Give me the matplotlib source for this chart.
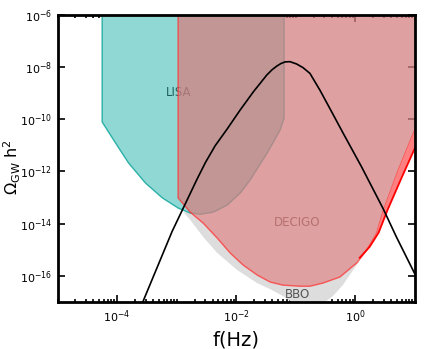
import matplotlib
matplotlib.use("Agg")
import matplotlib.pyplot as plt
import numpy as np
from matplotlib.ticker import FixedLocator, NullFormatter, LogFormatterSciNotation


# values, all in log10 units (f in Hz, Omega_GW h^2)

# LISA sensitivity region (left wall, bucket, right wall)
lisa_logf = [-4.251, -4.251, -4.025, -3.808, -3.523, -3.239, -2.972, -2.771,
             -2.604, -2.386, -2.152, -1.935, -1.768, -1.483, -1.266, -1.199, -1.199]
lisa_logomega = [-5.0, -10.11, -10.92, -11.68, -12.45, -13.02, -13.41, -13.60,
                 -13.64, -13.56, -13.29, -12.83, -12.33, -11.30, -10.42, -9.96, -5.0]

# DECIGO sensitivity region
decigo_logf = [-2.977, -2.977, -2.771, -2.553, -2.319, -2.102, -1.885, -1.651,
               -1.433, -1.216, -0.932, -0.764, -0.547, -0.263, 0.021, 0.188,
               0.355, 0.472, 0.706, 0.975, 1.24, 1.24]
decigo_logomega = [-5.0, -13.02, -13.57, -13.99, -14.56, -15.13, -15.59, -15.97,
                   -16.24, -16.36, -16.40, -16.40, -16.28, -16.05, -15.51, -15.02,
                   -14.37, -13.48, -12.03, -10.53, -9.07, -5.0]

# DECIGO high frequency edge (bright red)
decigo_hi_logf = [0.071, 0.238, 0.388, 0.538, 0.773, 0.975, 1.24]
decigo_hi_logomega = [-15.31, -14.89, -14.35, -13.48, -12.25, -11.22, -9.95]

# BBO lower edge
bbo_logf = [-2.888, -2.771, -2.553, -2.319, -1.985, -1.651, -1.433, -1.216,
            -1.065, -0.932, -0.681, -0.514, -0.380, -0.213, -0.063, 0.075, 0.188]
bbo_logomega = [-13.56, -13.87, -14.52, -15.13, -15.78, -16.28, -16.51, -16.78,
                -17.01, -17.24, -17.31, -17.01, -16.78, -16.36, -15.86, -15.40, -15.02]

# GW signal spectrum
signal_logf = [-3.674, -3.569, -3.077, -2.659, -2.520, -2.355, -2.157, -1.935,
               -1.712, -1.488, -1.400, -1.321, -1.250, -1.182, -1.100, -0.987,
               -0.880, -0.764, -0.597, -0.400, -0.207, 0.100, 0.462, 0.686,
               0.992, 1.159]
signal_logomega = [-17.43, -17.00, -14.30, -12.30, -11.67, -11.02, -10.39, -9.65,
                   -8.95, -8.31, -8.11, -7.97, -7.87, -7.81, -7.80, -7.89,
                   -8.03, -8.25, -8.89, -9.72, -10.54, -11.82, -13.42, -14.51,
                   -15.91, -16.66]


def pw(a):
    return 10.0 ** np.asarray(a)


fig = plt.figure(figsize=(4.36, 3.49), dpi=100)
ax = fig.add_axes([0.132, 0.135, 0.820, 0.823])
ax.set_xscale("log")
ax.set_yscale("log")

# BBO: grey band below the DECIGO curve
i0, i1 = 2, 15  # DECIGO points covered by the BBO band
bbo_x = np.concatenate([pw(bbo_logf), pw(decigo_logf[i0:i1 + 1])[::-1]])
bbo_y = np.concatenate([pw(bbo_logomega), pw(decigo_logomega[i0:i1 + 1])[::-1]])
ax.fill(bbo_x, bbo_y, color="#dddddd", lw=0, zorder=1)

# LISA
ax.fill(pw(lisa_logf), pw(lisa_logomega), facecolor="#8fd8d4",
        edgecolor="#2bb0a8", lw=1.0, zorder=2)
ax.text(10 ** -2.97, 10 ** -9.0, "LISA", color="#1e5e5a", fontsize=8.5,
        ha="center", va="center", zorder=2.2)

# DECIGO
ax.fill(pw(decigo_logf), pw(decigo_logomega), facecolor="#d38080",
        edgecolor="#ff3030", lw=1.0, alpha=0.75, zorder=3)
j0 = 14
band_x = np.concatenate([pw(decigo_hi_logf), pw(decigo_logf[j0:21])[::-1]])
band_y = np.concatenate([pw(decigo_hi_logomega), pw(decigo_logomega[j0:21])[::-1]])
ax.fill(band_x, band_y, color="#ff8080", lw=0, zorder=3.1)
ax.plot(pw(decigo_hi_logf), pw(decigo_hi_logomega), color="red", lw=1.3, zorder=3.2)
ax.text(10 ** -0.98, 10 ** -13.95, "DECIGO", color="#b87070", fontsize=8.5,
        ha="center", va="center", zorder=3.5)
ax.text(10 ** -0.98, 10 ** -16.7, "BBO", color="#555555", fontsize=8.5,
        ha="center", va="center", zorder=3.5)

# signal
ax.plot(pw(signal_logf), pw(signal_logomega), color="black", lw=1.2, zorder=4)

ax.set_xlim(1e-5, 10)
ax.set_ylim(1e-17, 1e-6)

ax.xaxis.set_major_locator(FixedLocator([1e-4, 1e-2, 1e0]))
minor_x = [k * 10.0 ** n for n in range(-5, 1) for k in range(1, 10)]
ax.xaxis.set_minor_locator(FixedLocator(minor_x))
ax.xaxis.set_minor_formatter(NullFormatter())
ax.xaxis.set_major_formatter(LogFormatterSciNotation())
ax.yaxis.set_major_locator(FixedLocator([10.0 ** n for n in range(-16, -5, 2)]))
ax.yaxis.set_minor_locator(FixedLocator([]))
ax.yaxis.set_major_formatter(LogFormatterSciNotation())

ax.tick_params(which="both", direction="in", top=True, right=True,
               width=1.2, labelsize=8, pad=5)
ax.tick_params(axis="y", pad=4)
ax.tick_params(which="major", length=5)
ax.tick_params(which="minor", length=2.5)
ax.set_axisbelow(True)

for sp in ax.spines.values():
    sp.set_linewidth(2)
    sp.set_zorder(10)

ax.set_xlabel("f(Hz)", fontsize=14, labelpad=4)
ax.set_ylabel(r"$\Omega_{\rm GW}$ h$^2$", fontsize=11.5)
ax.yaxis.set_label_coords(-0.098, 0.47)

plt.savefig("out.png", dpi=100)
